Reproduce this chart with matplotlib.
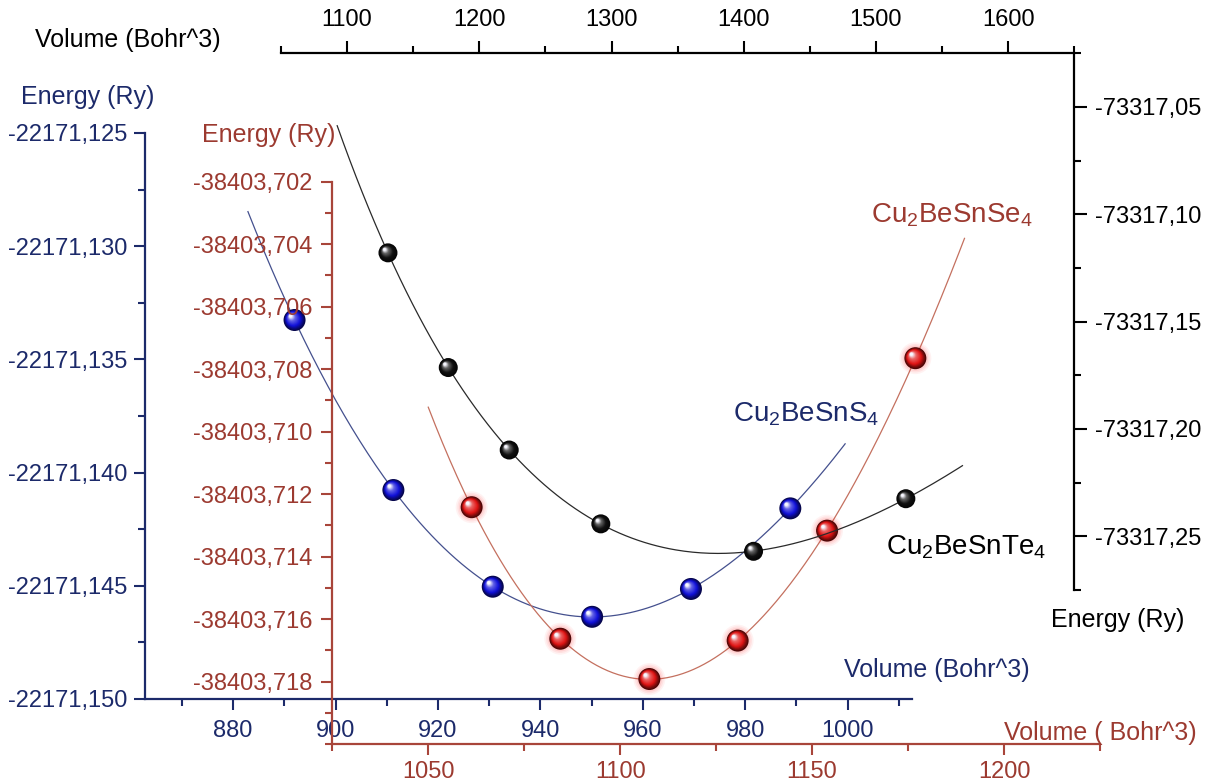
import numpy as np
import matplotlib
matplotlib.use("Agg")
import matplotlib.pyplot as plt
from matplotlib.ticker import FixedLocator, FuncFormatter, AutoMinorLocator
from matplotlib.transforms import offset_copy
from matplotlib.colors import to_rgb

plt.rcParams['font.family'] = ['Liberation Sans', 'DejaVu Sans']
plt.rcParams['mathtext.fontset'] = 'custom'
plt.rcParams['mathtext.rm'] = 'Liberation Sans'
plt.rcParams['mathtext.it'] = 'Liberation Sans:italic'
plt.rcParams['mathtext.bf'] = 'Liberation Sans:bold'

# ---- data: Cu2BeSnS4 (blue, left/bottom inner axes) ----
s_volume = [892.0, 911.3, 930.7, 950.1, 969.4, 988.8]
s_energy = [-22171.13326, -22171.14077, -22171.14504, -22171.14637, -22171.14514, -22171.14158]
s_fit_range = (882.9, 999.5)
s_energy_ticks = [-22171.150, -22171.145, -22171.140, -22171.135, -22171.130, -22171.125]
s_volume_ticks = [880, 900, 920, 940, 960, 980, 1000]

# ---- data: Cu2BeSnSe4 (red, left/bottom middle axes) ----
se_volume = [1061.3, 1084.4, 1107.6, 1130.6, 1153.9, 1176.9]
se_energy = [-38403.71242, -38403.71663, -38403.71792, -38403.71669, -38403.71317, -38403.70765]
se_fit_range = (1050.0, 1189.7)
se_energy_ticks = [-38403.718, -38403.716, -38403.714, -38403.712, -38403.710,
                   -38403.708, -38403.706, -38403.704, -38403.702]
se_volume_ticks = [1050, 1100, 1150, 1200]

# ---- data: Cu2BeSnTe4 (black, top/right axes) ----
te_volume = [1130.9, 1176.5, 1222.6, 1291.9, 1407.4, 1522.6]
te_energy = [-73317.11795, -73317.17138, -73317.20980, -73317.24419, -73317.25698, -73317.23248]
te_fit_range = (1092.5, 1565.4)
te_energy_ticks = [-73317.25, -73317.20, -73317.15, -73317.10, -73317.05]
te_volume_ticks = [1100, 1200, 1300, 1400, 1500, 1600]

BLUE_AX = '#1c2a6a'
RED_AX = '#a8453a'
BLUE_TXT = '#1c2a6a'
RED_TXT = '#9c3a30'

W, H, DPI = 1205, 784, 100
fig = plt.figure(figsize=(W / DPI, H / DPI), dpi=DPI)


def rect(left, right, top, bottom):
    return [left / W, 1 - bottom / H, (right - left) / W, (bottom - top) / H]


def birch_murnaghan(v, e, vmin, vmax):
    # third-order Birch-Murnaghan EOS is a cubic in V^(-2/3)
    coef = np.polyfit(np.asarray(v) ** (-2.0 / 3.0), np.asarray(e), 3)
    vv = np.linspace(vmin, vmax, 300)
    return vv, np.polyval(coef, vv ** (-2.0 / 3.0))


def shade(base, t):
    b = np.array(to_rgb(base))
    dark = b * 0.35
    light = b + (1 - b) * 0.35
    white = np.array([0.97, 0.97, 1.0])
    stops = [(0.0, dark), (0.3, b), (0.7, light), (1.0, white)]
    for (t0, c0), (t1, c1) in zip(stops[:-1], stops[1:]):
        if t <= t1:
            f = (t - t0) / (t1 - t0)
            return tuple(c0 + (c1 - c0) * f)
    return tuple(white)


def spheres(ax, x, y, base, radius, glow=None):
    if glow is not None:
        for k, a in enumerate([0.06, 0.08, 0.1]):
            r = radius * (1.45 - 0.15 * k)
            ax.scatter(x, y, s=(2 * r * 72 / DPI) ** 2, color=glow, alpha=a,
                       edgecolors='none', zorder=4)
    n = 18
    for i in range(n):
        t = i / (n - 1)
        r = radius * (1 - 0.86 * t ** 0.8)
        d = 0.36 * radius * t
        tr = offset_copy(ax.transData, fig=ax.figure, x=-d, y=d, units='dots')
        ax.scatter(x, y, s=(2 * r * 72 / DPI) ** 2, color=[shade(base, t)],
                   edgecolors='none', transform=tr, zorder=5 + i * 0.01)


def comma_fmt(decimals):
    return FuncFormatter(lambda v, p: f"{v:.{decimals}f}".replace('.', ','))


def base_axes(r):
    ax = fig.add_axes(r)
    ax.patch.set_alpha(0)
    for s in ax.spines.values():
        s.set_visible(False)
    return ax


tick_font = 17

# ---------- blue axes ----------
axs = base_axes(rect(145, 911.7, 133, 699))
axs.set_xlim(862.8, 1012.5)
axs.set_ylim(-22171.150, -22171.125)
for side in ['left', 'bottom']:
    axs.spines[side].set_visible(True)
    axs.spines[side].set_color(BLUE_AX)
    axs.spines[side].set_linewidth(1.6)
axs.yaxis.set_major_locator(FixedLocator(s_energy_ticks))
axs.yaxis.set_minor_locator(AutoMinorLocator(2))
axs.xaxis.set_major_locator(FixedLocator(s_volume_ticks))
axs.xaxis.set_minor_locator(AutoMinorLocator(2))
axs.yaxis.set_major_formatter(comma_fmt(3))
axs.xaxis.set_major_formatter(FuncFormatter(lambda v, p: f"{v:.0f}"))
axs.tick_params(which='both', direction='out', color=BLUE_AX, width=1.5,
                labelcolor=BLUE_TXT, labelsize=tick_font)
axs.tick_params(which='major', length=8)
axs.tick_params(which='minor', length=5)
axs.tick_params(axis='y', pad=5)
axs.tick_params(axis='x', pad=7)
vv, ee = birch_murnaghan(s_volume, s_energy, *s_fit_range)
axs.plot(vv, ee, color='#44508e', lw=0.9, zorder=2, clip_on=False)
spheres(axs, s_volume, s_energy, '#1010d8', 11)

# ---------- red axes ----------
axse = base_axes(rect(332.3, 1100, 181.7, 744))
axse.set_xlim(1025, 1225)
axse.set_ylim(-38403.720, -38403.702)
for side in ['left', 'bottom']:
    axse.spines[side].set_visible(True)
    axse.spines[side].set_color(RED_AX)
    axse.spines[side].set_linewidth(1.6)
axse.yaxis.set_major_locator(FixedLocator(se_energy_ticks))
axse.yaxis.set_minor_locator(AutoMinorLocator(2))
axse.xaxis.set_major_locator(FixedLocator(se_volume_ticks))
axse.xaxis.set_minor_locator(AutoMinorLocator(2))
axse.yaxis.set_major_formatter(comma_fmt(3))
axse.xaxis.set_major_formatter(FuncFormatter(lambda v, p: f"{v:.0f}"))
axse.tick_params(which='both', direction='out', color=RED_AX, width=1.5,
                 labelcolor=RED_TXT, labelsize=tick_font)
axse.tick_params(which='major', length=8)
axse.tick_params(which='minor', length=5)
axse.tick_params(axis='y', pad=6)
axse.tick_params(axis='x', pad=4)
vv, ee = birch_murnaghan(se_volume, se_energy, *se_fit_range)
axse.plot(vv, ee, color='#c4705f', lw=0.9, zorder=2, clip_on=False)
spheres(axse, se_volume, se_energy, '#e01414', 11, glow='#ff3030')

# ---------- black axes ----------
axte = base_axes(rect(281, 1074.3, 53.3, 590))
axte.set_xlim(1050, 1650)
axte.set_ylim(-73317.275, -73317.025)
for side in ['top', 'right']:
    axte.spines[side].set_visible(True)
    axte.spines[side].set_color('black')
    axte.spines[side].set_linewidth(1.6)
axte.xaxis.tick_top()
axte.yaxis.tick_right()
axte.yaxis.set_major_locator(FixedLocator(te_energy_ticks))
axte.yaxis.set_minor_locator(AutoMinorLocator(2))
axte.xaxis.set_major_locator(FixedLocator(te_volume_ticks))
axte.xaxis.set_minor_locator(AutoMinorLocator(2))
axte.yaxis.set_major_formatter(comma_fmt(2))
axte.xaxis.set_major_formatter(FuncFormatter(lambda v, p: f"{v:.0f}"))
axte.tick_params(which='both', direction='out', color='black', width=1.5,
                 labelcolor='black', labelsize=tick_font)
axte.tick_params(which='major', length=9)
axte.tick_params(which='minor', length=5)
axte.tick_params(axis='y', pad=6)
axte.tick_params(axis='x', pad=7)
vv, ee = birch_murnaghan(te_volume, te_energy, *te_fit_range)
axte.plot(vv, ee, color='#2a2a2a', lw=0.9, zorder=2, clip_on=False)
spheres(axte, te_volume, te_energy, '#111111', 9.5)


# ---------- titles and compound names ----------
def ftext(x, y, s, color, size=18, ha='center', va='center'):
    fig.text(x / W, 1 - y / H, s, color=color, fontsize=size, ha=ha, va=va)


ftext(128, 40, 'Volume (Bohr^3)', 'black')
ftext(88, 97, 'Energy (Ry)', BLUE_TXT)
ftext(269, 135, 'Energy (Ry)', RED_TXT)
ftext(1118, 620, 'Energy (Ry)', 'black')
ftext(937, 670, 'Volume (Bohr^3)', BLUE_TXT)
ftext(1100, 733, 'Volume ( Bohr^3)', RED_TXT)

ftext(952, 215, r'Cu$_2$BeSnSe$_4$', RED_TXT, size=20)
ftext(806, 414, r'Cu$_2$BeSnS$_4$', BLUE_TXT, size=20)
ftext(966, 547, r'Cu$_2$BeSnTe$_4$', 'black', size=20)

fig.savefig('out.png', dpi=DPI, facecolor='white')
